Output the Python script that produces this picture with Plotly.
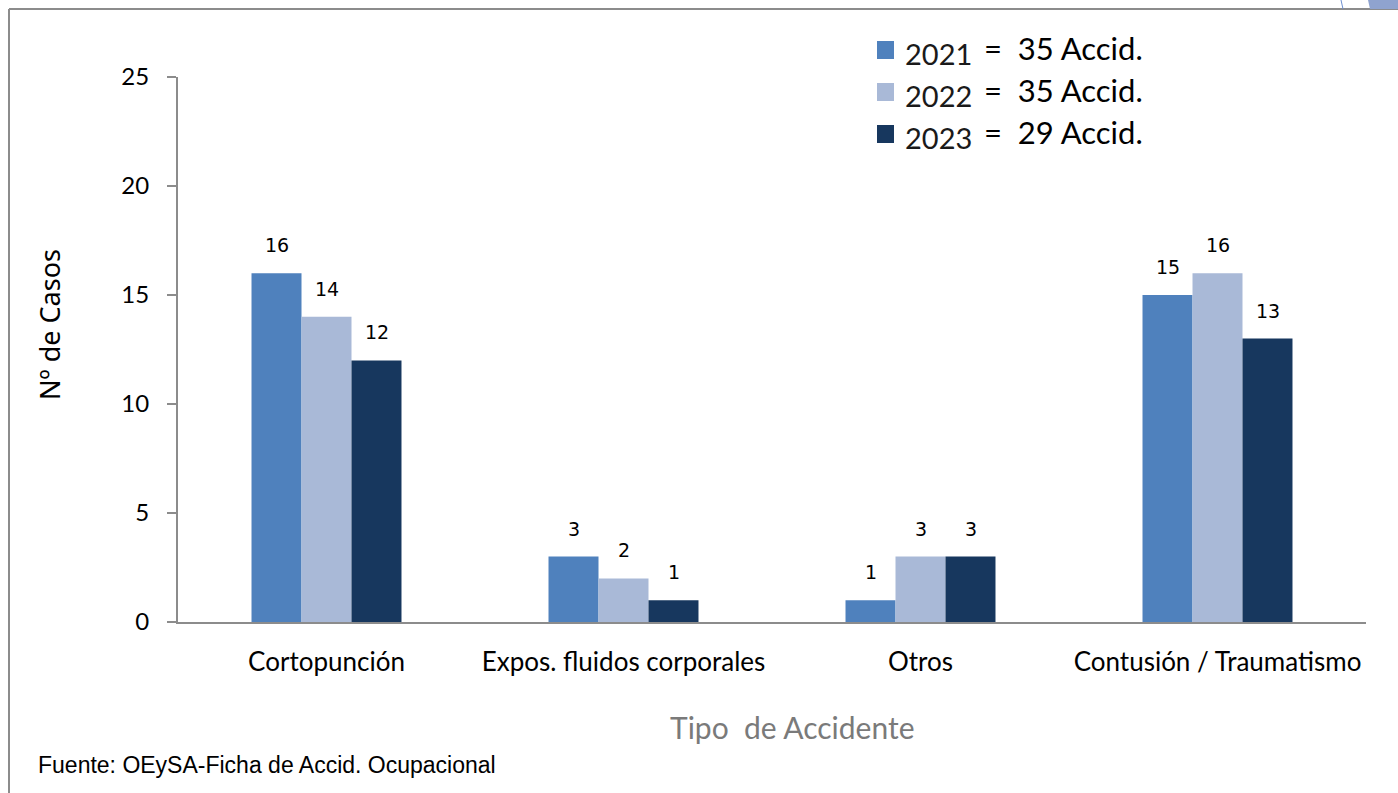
import plotly.graph_objects as go

categories = ["Cortopunción", "Expos. fluidos corporales", "Otros", "Contusión / Traumatismo"]
years = ["2021", "2022", "2023"]
totals = ["35 Accid.", "35 Accid.", "29 Accid."]
values_2021 = [16, 3, 1, 15]
values_2022 = [14, 2, 3, 16]
values_2023 = [12, 1, 3, 13]
series = [values_2021, values_2022, values_2023]
colors = ["#4F81BD", "#A9B9D7", "#17375E"]

W, H = 1398, 793
L, R, T, B = 178, 32, 77, 171
PW, PH = W - L - R, H - T - B


def px(x):
    return (x - L) / PW


def py(y):
    return (H - B - y) / PH


FONT = "Lato, Calibri, sans-serif"

fig = go.Figure()
for i, (yr, vals) in enumerate(zip(years, series)):
    fig.add_trace(go.Bar(
        x=categories, y=vals, name=yr, marker=dict(color=colors[i], line=dict(width=0)),
        showlegend=False, hoverinfo="x+y",
    ))

annotations = []
for i, vals in enumerate(series):
    for c, v in zip(categories, vals):
        annotations.append(dict(
            x=c, y=v, xref="x", yref="y", text=str(v), showarrow=False,
            xshift=(i - 1) * 50, yshift=28, yanchor="middle",
            font=dict(family="DejaVu Sans", size=19, color="#000000"),
        ))

shapes = []
legend_rows = [50, 92, 134]
for i, (yr, tot) in enumerate(zip(years, totals)):
    yc = legend_rows[i]
    shapes.append(dict(
        type="rect", xref="paper", yref="paper",
        x0=px(877), x1=px(894), y0=py(yc + 9), y1=py(yc - 9),
        fillcolor=colors[i], line=dict(width=0),
    ))
    annotations.append(dict(
        x=px(903), y=py(yc + 4), xref="paper", yref="paper", text=yr,
        showarrow=False, xanchor="left", yanchor="middle",
        font=dict(family=FONT, size=29, color="#1a1a1a"),
    ))
    annotations.append(dict(
        x=px(982), y=py(yc - 2), xref="paper", yref="paper", text="=  " + tot,
        showarrow=False, xanchor="left", yanchor="middle",
        font=dict(family=FONT, size=31, color="#000000"),
    ))

# axis titles / source
annotations.append(dict(
    x=px(793), y=py(727), xref="paper", yref="paper", text="Tipo  de Accidente",
    showarrow=False, xanchor="center", yanchor="middle",
    font=dict(family=FONT, size=30, color="#7A7A7A"),
))
annotations.append(dict(
    x=px(49), y=py(325), xref="paper", yref="paper", text="Nº de Casos",
    showarrow=False, xanchor="center", yanchor="middle", textangle=-90,
    font=dict(family="Noto Sans", size=27, color="#000000"),
))
annotations.append(dict(
    x=px(36), y=py(765), xref="paper", yref="paper", text="Fuente: OEySA-Ficha de Accid. Ocupacional",
    showarrow=False, xanchor="left", yanchor="middle",
    font=dict(family="Liberation Sans, Arial", size=23, color="#000000"),
))

# outer frame
shapes.append(dict(type="line", xref="paper", yref="paper", x0=px(9), x1=px(1398), y0=py(9), y1=py(9),
                   line=dict(color="#8C8C8C", width=2)))
shapes.append(dict(type="line", xref="paper", yref="paper", x0=px(9), x1=px(9), y0=py(9), y1=py(793),
                   line=dict(color="#8C8C8C", width=2)))
# top-right decoration
shapes.append(dict(type="path", xref="paper", yref="paper",
                   path=f"M {px(1368)} {py(0)} L {px(1398)} {py(0)} L {px(1398)} {py(9)} L {px(1370)} {py(9)} Z",
                   fillcolor="#8FA3CF", line=dict(width=0)))
shapes.append(dict(type="line", xref="paper", yref="paper", x0=px(1341), x1=px(1343), y0=py(0), y1=py(9),
                   line=dict(color="#6E8FD0", width=1)))

fig.update_layout(
    width=W, height=H,
    margin=dict(l=L, r=R, t=T, b=B),
    paper_bgcolor="white", plot_bgcolor="white",
    barmode="group", bargap=0.495, bargroupgap=0,
    annotations=annotations, shapes=shapes,
    font=dict(family=FONT, color="#000000"),
    xaxis=dict(
        showline=True, linecolor="#8C8C8C", linewidth=2, ticks="", showgrid=False,
        tickfont=dict(family=FONT, size=26, color="#000000"), ticklabelstandoff=16,
        fixedrange=True,
    ),
    yaxis=dict(
        range=[0, 25], tickvals=[0, 5, 10, 15, 20, 25], showline=True, linecolor="#8C8C8C",
        linewidth=2, ticks="outside", ticklen=9, tickcolor="#8C8C8C", tickwidth=2,
        showgrid=False, zeroline=False, tickfont=dict(family=FONT, size=24, color="#000000"),
        ticklabelstandoff=13, fixedrange=True,
    ),
)

fig.write_html("out.html", config={"displayModeBar": False},
               post_script="document.body.style.margin='0';document.body.style.overflow='hidden';")
